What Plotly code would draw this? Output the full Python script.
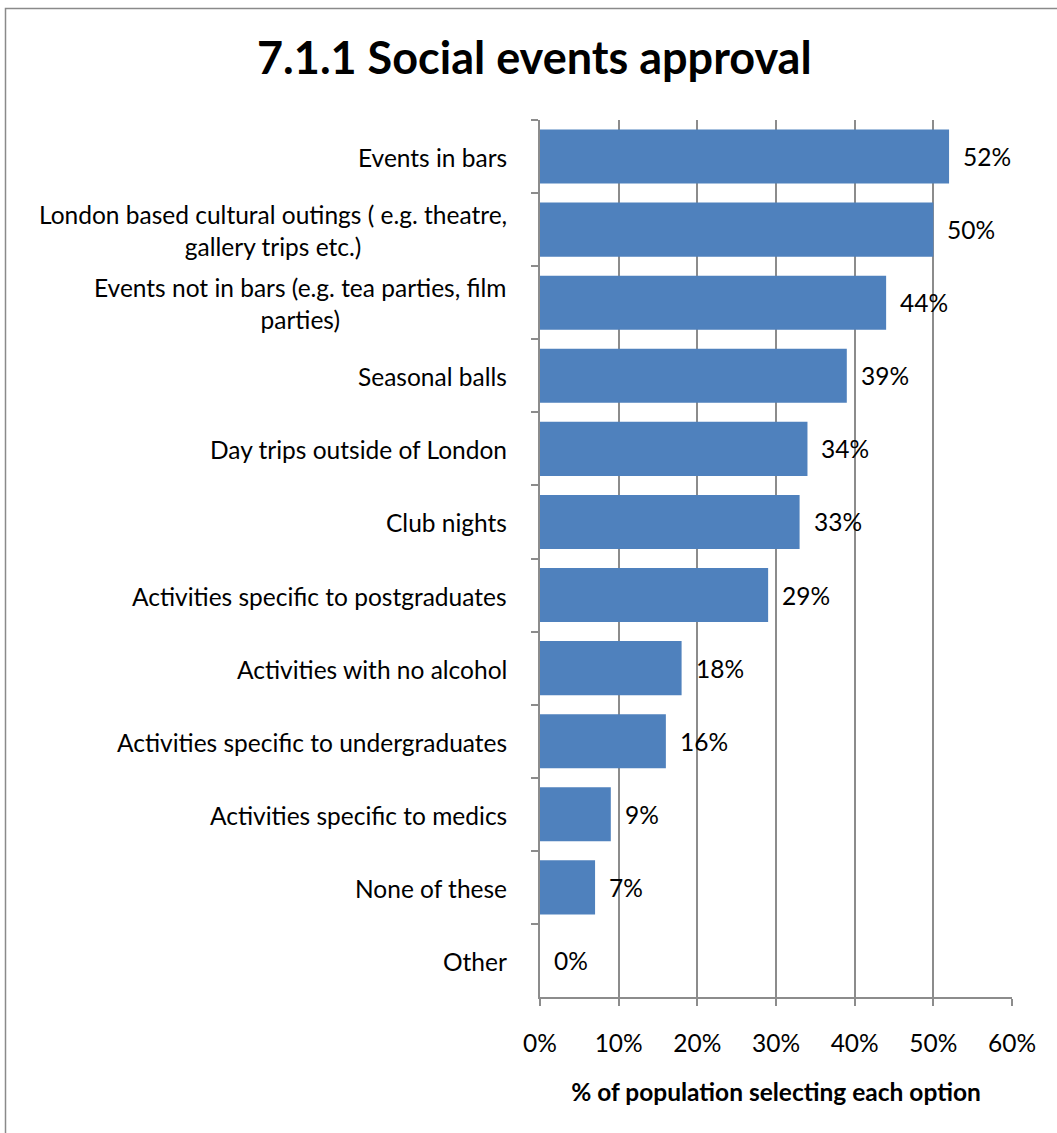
import plotly.graph_objects as go

# Survey results: share of respondents approving each kind of social event
categories = [
    "Events in bars",
    "London based cultural outings ( e.g. theatre,<br>gallery trips etc.)",
    "Events not in bars (e.g. tea parties, film<br>parties)",
    "Seasonal balls",
    "Day trips outside of London",
    "Club nights",
    "Activities specific to postgraduates",
    "Activities with no alcohol",
    "Activities specific to undergraduates",
    "Activities specific to medics",
    "None of these",
    "Other",
]
percent_selected = [52, 50, 44, 39, 34, 33, 29, 18, 16, 9, 7, 0]
x_ticks = [0, 10, 20, 30, 40, 50, 60]
x_tick_labels = ["0%", "10%", "20%", "30%", "40%", "50%", "60%"]

W, H = 1057, 1133
L, R, T, B = 540, 45, 120, 136
plot_w = W - L - R
plot_h = H - T - B

FONT = "Lato"
TXT = 24.5
GRID = "#8c8c8c"
BAR = "#4f81bd"


def px_x(p):
    return (p - L) / plot_w


def px_y(p):
    return (H - B - p) / plot_h


fig = go.Figure(
    go.Bar(
        x=percent_selected,
        y=categories,
        orientation="h",
        marker=dict(color=BAR, line=dict(width=0)),
        hoverinfo="skip",
    )
)

annotations = []
# category labels: right-aligned block, centred lines (as in the office chart style)
for cat in categories:
    annotations.append(dict(
        x=0, xref="paper", y=cat, yref="y",
        text=cat, showarrow=False, xanchor="right", yanchor="middle",
        align="center", xshift=-31, yshift=-1,
        font=dict(family=FONT, size=TXT, color="#000000"),
    ))
# value labels beside each bar
for cat, v in zip(categories, percent_selected):
    annotations.append(dict(
        x=v, xref="x", y=cat, yref="y",
        text=f"{v}%", showarrow=False, xanchor="left", yanchor="middle",
        xshift=12,
        font=dict(family=FONT, size=TXT, color="#000000"),
    ))
# chart title
annotations.append(dict(
    x=px_x(534), xref="paper", y=px_y(57), yref="paper",
    text="<b>7.1.1 Social events approval</b>", showarrow=False,
    xanchor="center", yanchor="middle",
    font=dict(family=FONT, size=45, color="#000000"),
))

fig.update_layout(
    width=W, height=H,
    margin=dict(l=L, r=R, t=T, b=B, pad=0),
    paper_bgcolor="white", plot_bgcolor="white",
    showlegend=False,
    bargap=0.26,
    annotations=annotations,
    shapes=[dict(
        type="rect", xref="paper", yref="paper",
        x0=px_x(5.5), x1=px_x(1070), y0=px_y(1150), y1=px_y(8.5),
        line=dict(color="#8a8a8a", width=1.5), fillcolor="rgba(0,0,0,0)",
        layer="below",
    )],
    xaxis=dict(
        range=[0, 60],
        tickvals=x_ticks, ticktext=x_tick_labels,
        showgrid=True, gridcolor=GRID, gridwidth=2,
        showline=True, linecolor=GRID, linewidth=2,
        ticks="outside", ticklen=7, tickwidth=2, tickcolor=GRID,
        ticklabelstandoff=17,
        tickfont=dict(family=FONT, size=TXT, color="#000000"),
        zeroline=False,
        title=dict(
            text="<b>% of population selecting each option</b>",
            font=dict(family=FONT, size=TXT, color="#000000"),
            standoff=27,
        ),
    ),
    yaxis=dict(
        type="category",
        categoryorder="array", categoryarray=categories,
        range=[len(categories) - 0.5, -0.5],
        showticklabels=False,
        showgrid=False,
        showline=True, linecolor=GRID, linewidth=2,
        ticks="outside", tickson="boundaries", ticklen=7, tickwidth=2,
        tickcolor=GRID,
        zeroline=False,
    ),
)

fig.write_html("out.html")
